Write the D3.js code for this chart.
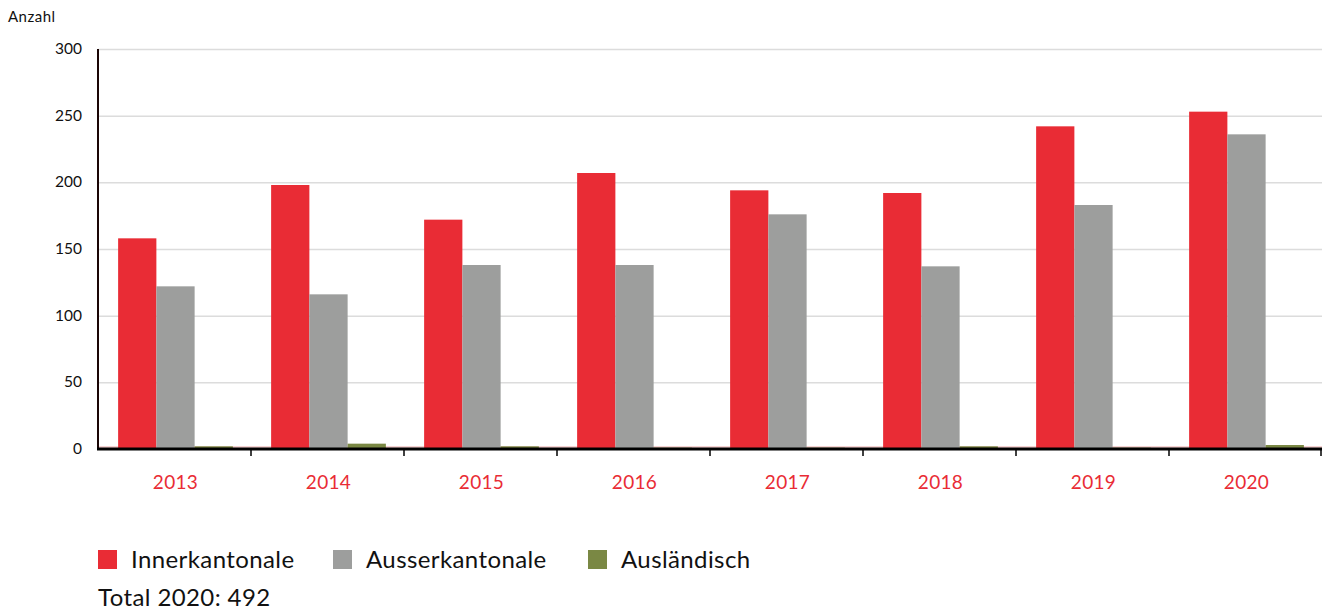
<!DOCTYPE html>
<html>
<head>
<meta charset="utf-8">
<script src="https://cdn.jsdelivr.net/npm/d3@7"></script>
<style>
  body { margin: 0; background: #fff; font-family: Lato, "Open Sans", sans-serif; }
  .grid line { stroke: #dcdcdc; stroke-width: 1.5; }
  .grid .domain { display: none; }
</style>
</head>
<body>
<div id="chart"></div>
<script>
  // Data
  const years = ['2013', '2014', '2015', '2016', '2017', '2018', '2019', '2020'];
  const seriesNames = ['Innerkantonale', 'Ausserkantonale', 'Ausländisch'];
  const innerkantonale = [158, 198, 172, 207, 194, 192, 242, 253];
  const ausserkantonale = [122, 116, 138, 138, 176, 137, 183, 236];
  const auslaendisch = [2, 4, 2, 1, 1, 2, 1, 3];
  const yTicks = [0, 50, 100, 150, 200, 250, 300];
  const totalLabel = 'Total 2020: 492';

  const colors = ['#e92c35', '#9d9e9d', '#7a8844'];

  const W = 1322, H = 611;
  const margin = { top: 49, right: 0, bottom: 162, left: 98 };
  const w = W - margin.left - margin.right;
  const h = H - margin.top - margin.bottom;

  const rows = years.map(function(y, i) {
    return { year: y, values: [innerkantonale[i], ausserkantonale[i], auslaendisch[i]] };
  });

  // Scales
  const x0 = d3.scaleBand()
    .domain(years)
    .range([1, w + 1])
    .paddingInner(0.25)
    .paddingOuter(0.125);

  const x1 = d3.scaleBand()
    .domain(d3.range(seriesNames.length))
    .range([0, x0.bandwidth()]);

  const yScale = d3.scaleLinear()
    .domain([0, 300])
    .range([h, 0]);

  const svg = d3.select('#chart').append('svg')
    .attr('width', W)
    .attr('height', H);

  const g = svg.append('g')
    .attr('transform', `translate(${ margin.left }, ${ margin.top })`);

  // gridlines
  g.append('g')
    .attr('class', 'grid')
    .call(d3.axisLeft(yScale).tickValues(yTicks.slice(1)).tickSize(-w).tickFormat(''));

  // light baseline line under bars
  g.append('line')
    .attr('x1', 0).attr('x2', w)
    .attr('y1', yScale(0) - 2).attr('y2', yScale(0) - 2)
    .attr('stroke', '#f3c4c4')
    .attr('stroke-width', 1.5);

  // bars
  const groups = g.selectAll('.year')
    .data(rows)
    .enter()
    .append('g')
    .attr('class', 'year')
    .attr('transform', function(d) { return `translate(${ x0(d.year) }, 0)`; });

  groups.selectAll('rect')
    .data(function(d) { return d.values; })
    .enter()
    .append('rect')
    .attr('x', function(d, i) { return x1(i); })
    .attr('width', x1.bandwidth())
    .attr('y', function(d) { return yScale(d); })
    .attr('height', function(d) { return yScale(0) - yScale(d); })
    .attr('fill', function(d, i) { return colors[i]; });

  // y-axis line + labels
  g.append('line')
    .attr('x1', 0).attr('x2', 0)
    .attr('y1', yScale(300)).attr('y2', yScale(0))
    .attr('stroke', '#1a0505')
    .attr('stroke-width', 2);

  g.selectAll('.ylab')
    .data(yTicks)
    .enter()
    .append('text')
    .attr('class', 'ylab')
    .attr('x', -16)
    .attr('y', function(d) { return yScale(d) + 5; })
    .attr('text-anchor', 'end')
    .attr('font-size', 15.5)
    .attr('fill', '#111')
    .text(function(d) { return d; });

  svg.append('text')
    .attr('x', 8)
    .attr('y', 22)
    .attr('font-size', 15)
    .attr('letter-spacing', 0.5)
    .attr('fill', '#111')
    .text('Anzahl');

  // x-axis line + ticks at band boundaries
  g.append('line')
    .attr('x1', -1).attr('x2', w)
    .attr('y1', yScale(0)).attr('y2', yScale(0))
    .attr('stroke', '#000')
    .attr('stroke-width', 3);

  const step = w / years.length;
  g.selectAll('.xtick')
    .data(d3.range(1, years.length + 1))
    .enter()
    .append('line')
    .attr('class', 'xtick')
    .attr('x1', function(i) { return Math.min(i * step, w - 1); })
    .attr('x2', function(i) { return Math.min(i * step, w - 1); })
    .attr('y1', yScale(0))
    .attr('y2', yScale(0) + 7)
    .attr('stroke', '#000')
    .attr('stroke-width', 1.5);

  g.selectAll('.xlab')
    .data(years)
    .enter()
    .append('text')
    .attr('class', 'xlab')
    .attr('x', function(d) { return x0(d) + x0.bandwidth() / 2; })
    .attr('y', yScale(0) + 40)
    .attr('text-anchor', 'middle')
    .attr('font-size', 19)
    .attr('letter-spacing', 0.3)
    .attr('fill', '#e92c35')
    .text(function(d) { return d; });

  // legend
  const legendX = [98, 333, 588];
  const legend = svg.selectAll('.legend')
    .data(seriesNames)
    .enter()
    .append('g')
    .attr('class', 'legend')
    .attr('transform', function(d, i) { return `translate(${ legendX[i] }, 550)`; });

  legend.append('rect')
    .attr('width', 19)
    .attr('height', 19)
    .attr('fill', function(d, i) { return colors[i]; });

  legend.append('text')
    .attr('x', 33)
    .attr('y', 18)
    .attr('font-size', 24)
    .attr('letter-spacing', 0.4)
    .attr('fill', '#111')
    .text(function(d) { return d; });

  svg.append('text')
    .attr('x', 98)
    .attr('y', 606)
    .attr('font-size', 24)
    .attr('letter-spacing', 0.4)
    .attr('fill', '#111')
    .text(totalLabel);
</script>
</body>
</html>
